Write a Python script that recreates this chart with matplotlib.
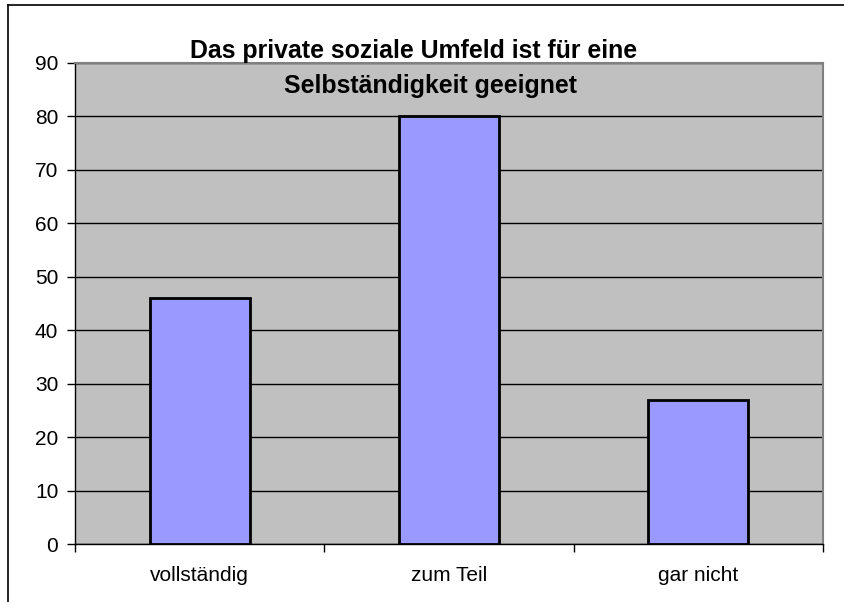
import matplotlib
matplotlib.use("Agg")
import matplotlib.pyplot as plt
from matplotlib.lines import Line2D

categories = ["vollständig", "zum Teil", "gar nicht"]
values = [46, 80, 27]
yticks = [0, 10, 20, 30, 40, 50, 60, 70, 80, 90]
title_lines = ["Das private soziale Umfeld ist für eine", "Selbständigkeit geeignet"]

plt.rcParams['font.family'] = ['Liberation Sans', 'DejaVu Sans']

W, H = 844, 602
fig = plt.figure(figsize=(W/100, H/100), dpi=100)
L, R, T, B = 75, 823, 63, 544
ax = fig.add_axes([L/W, 1-B/H, (R-L)/W, (B-T)/H])
ax.set_facecolor('#C0C0C0')

x = list(range(len(categories)))
ax.bar(x, values, width=0.4, color='#9999FF', edgecolor='black', linewidth=2, zorder=3)
ax.set_xlim(-0.5, len(categories)-0.5)
ax.set_ylim(0, 90)
ax.set_yticks(yticks)
ax.set_yticklabels([str(v) for v in yticks], fontsize=15)
ax.yaxis.grid(True, color='black', linewidth=1, zorder=1)
ax.set_axisbelow(True)
ax.set_xticks(x)
ax.set_xticklabels(categories, fontsize=15)
ax.tick_params(axis='x', length=0, pad=16)
ax.set_xticks([i-0.5 for i in range(len(categories)+1)], minor=True)
ax.tick_params(axis='x', which='minor', length=6, width=1, color='black', direction='out')
ax.tick_params(axis='y', length=6, width=1, color='black', direction='out', pad=6)
for s in ['top', 'right']:
    ax.spines[s].set_color('#808080')
    ax.spines[s].set_linewidth(1.5)
for s in ['left', 'bottom']:
    ax.spines[s].set_color('black')
    ax.spines[s].set_linewidth(1)

fig.text(414/W, 1-58/H, title_lines[0], ha='center', va='baseline', fontsize=17.9, fontweight='bold')
fig.text(431/W, 1-93/H, title_lines[1], ha='center', va='baseline', fontsize=17.9, fontweight='bold')

# outer chart frame (cut on right/bottom)
fig.add_artist(Line2D([8/W, 1], [1-5/H, 1-5/H], color='black', linewidth=1.2, transform=fig.transFigure))
fig.add_artist(Line2D([8/W, 8/W], [0, 1-5/H], color='black', linewidth=1.2, transform=fig.transFigure))

fig.savefig('out.png', dpi=100)
